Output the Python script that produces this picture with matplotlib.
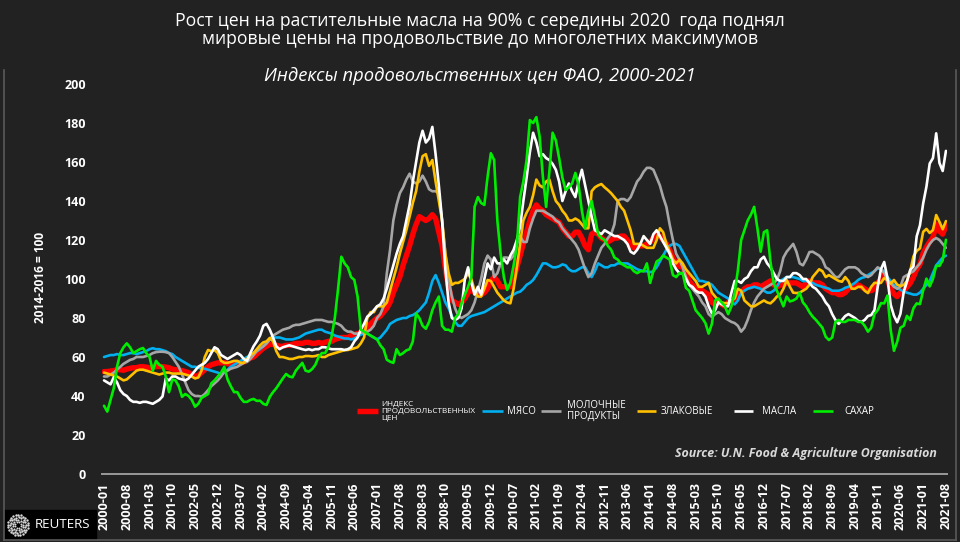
import numpy as np
import pandas as pd
import matplotlib
matplotlib.use("Agg")
import matplotlib.pyplot as plt
from matplotlib.lines import Line2D
from matplotlib.patches import Rectangle

# ---------------- data (monthly, 2000-01 .. 2021-08) ----------------
months = [p.strftime("%Y-%m") for p in pd.period_range("2000-01", "2021-08", freq="M")]

food = [
    52.5, 52.5, 52.8, 53, 53.5, 53.5, 53.2, 53.8, 54.2, 54.5, 54.5, 55,
    55, 54.8, 54.5, 54.8, 55, 55.2, 55, 54.8, 54.5, 53.8, 53.5, 53.2,
    53, 52.5, 52, 51, 50, 50.5, 52, 53.5, 55, 56, 56.5, 57,
    57, 57.2, 56.5, 56.5, 57, 57.2, 57, 57.5, 58.5, 59.5, 60, 61.5,
    63, 64.5, 65.5, 66.5, 66.5, 66, 65.5, 65.5, 66, 66, 66.5, 67,
    67, 67, 67.5, 67.5, 67, 67, 67.5, 67, 67.5, 68, 68, 69,
    69.5, 70, 70, 70, 71, 71.5, 72, 72.5, 73.5, 75, 77, 78.5,
    80, 81, 83, 85, 88, 93, 97, 101, 107, 112, 117, 123,
    128, 132, 131, 130, 131, 133, 131, 124, 117, 105, 96, 89,
    88, 87, 88, 90, 93, 95, 93, 94, 92, 93, 95, 99,
    101, 99, 96, 96, 96, 96, 100, 106, 112, 118, 124, 130,
    135, 138, 136, 135, 133, 132, 131, 130, 129, 126, 124, 122,
    122, 124, 124, 121, 117, 115, 123, 124, 123, 121, 120, 119,
    120, 121, 121, 122, 122, 120, 118, 116, 117, 117, 117, 118,
    119, 121, 123, 122, 120, 118, 115, 111, 108, 106.5, 106, 103,
    99, 97, 95, 95, 94, 93, 92, 88, 87, 88, 87, 86,
    88, 89, 90, 91, 93, 95, 96, 96, 97, 97, 96, 97,
    98, 99, 97, 96, 97, 97, 98, 98, 98, 98, 97, 96,
    98, 99, 98, 98, 98, 97, 95, 94, 93, 93, 92, 92,
    93, 95, 96, 96, 97, 96, 95, 94, 94, 95, 98, 100,
    102.5, 99.4, 95.1, 92.4, 91.0, 93.1, 94.0, 95.9, 97.8, 101.0, 105.0, 107.5,
    113.3, 116.4, 119.1, 121.3, 128.1, 124.6, 123.0, 127.4,
]

meat = [
    60, 60.5, 61, 61, 61.5, 61, 61, 61.5, 62, 62, 61.5, 62,
    62.5, 63, 64, 64.5, 64, 64, 63.5, 63, 62, 61.5, 60, 59,
    58, 57, 56, 55, 55, 54.5, 54, 54, 53.5, 53, 52.5, 52,
    51, 52, 53.5, 55, 56, 57, 58, 59, 60, 61, 62, 63,
    64, 65.5, 67, 69, 70, 70, 70, 69.5, 69, 69, 69, 69.5,
    70, 71, 72, 72.5, 73, 73.5, 74, 74, 73, 72.5, 72, 71,
    70.5, 70, 69.5, 69.5, 69, 69.5, 70.5, 71.5, 72, 72, 71, 70,
    69, 70, 72, 74, 77, 78, 79, 79.5, 80, 80, 81, 81.5,
    82.5, 84, 86, 88, 93, 99, 102, 98, 93, 88, 85, 81,
    78, 76, 76, 78, 80, 81, 81.5, 82, 82.5, 83, 84, 85,
    86, 87, 88, 89, 90, 91, 92, 93, 93.5, 95, 97, 98,
    99.5, 102, 105, 108, 108, 107, 106, 106, 106.5, 107.5, 107, 105,
    104, 104, 105, 106, 106, 103, 101, 104, 108, 107, 106, 106,
    107, 107, 108, 108, 108, 108, 107, 106, 105, 104.5, 104, 104,
    103.5, 104, 106, 109, 112, 115, 117, 118, 118, 117, 114, 111,
    108, 105, 102, 99, 99, 98.5, 98, 97, 95, 93, 92, 91,
    90, 88, 87, 89, 93, 94, 95, 95.5, 96, 95.5, 95, 94,
    93, 93, 94, 96, 99, 100, 101, 101, 101, 100.5, 100, 99,
    99, 98.5, 98, 97, 96.5, 96, 95.5, 95, 94, 94, 94, 94.5,
    95.5, 96, 97, 98, 99.5, 100.5, 101, 102, 103, 104, 105.5, 105,
    104, 101, 99, 97, 95.5, 94.5, 93.5, 93, 92.5, 92, 92, 93,
    95, 97, 99, 103, 107, 109, 111, 112,
]

dairy = [
    50, 50, 51, 52, 53.5, 55, 56.5, 57.5, 58.5, 59, 60, 60,
    60, 60.5, 61, 62, 62.5, 62.7, 62.7, 62.5, 62, 60, 57.5, 55,
    51, 47, 43, 41, 40, 40, 39.7, 41, 43, 45, 46.5, 48,
    50, 52.5, 53, 54, 54.5, 55, 56, 57, 57.5, 59, 61, 63,
    64.5, 65.5, 67, 69, 71, 72, 73, 74, 74.5, 75, 76, 76.5,
    76.5, 77, 77.5, 78, 78.5, 79, 79, 79, 78.5, 78, 78, 77.5,
    77, 76, 74, 73, 73, 72, 72, 72.5, 72.5, 73, 74, 76,
    80, 82, 86, 103, 115, 130, 138, 144, 147, 151, 154, 150,
    149, 150, 153, 150, 146, 145, 145, 144, 130, 113, 100, 91,
    85, 81, 80, 81, 82, 84, 88, 94, 100, 108, 112, 110,
    101, 103, 108, 111, 111, 110, 112, 118, 122, 119, 119, 126,
    131, 135, 135, 135, 134, 133, 132, 130, 129, 126, 124, 122,
    120, 118, 115, 110, 105, 101, 103, 108, 112, 116, 118, 121,
    123, 128, 140, 141, 141, 140, 142, 146, 150, 152, 155, 157,
    157, 156, 152, 148, 142, 137, 128, 120, 113, 110, 106, 101,
    97, 95, 93, 91, 88, 86, 82, 80.5, 82, 83, 82, 80,
    79, 78, 77.4, 76, 73, 75, 79, 84, 88, 91, 93, 95,
    96, 97, 98, 99.5, 104, 111, 114, 116, 118, 114, 108, 107,
    110, 113.8, 114, 113, 112, 110, 106, 105, 103, 101, 101, 103,
    105, 106, 106, 106, 105, 103, 102, 101, 102, 104, 106, 105,
    103, 99.5, 98, 96, 95, 96, 101, 102, 103, 104, 106, 108,
    111, 115, 118, 120, 121, 120, 118, 116,
]

cereals = [
    52, 51.5, 51, 50.5, 50, 49, 48, 48.5, 50, 51.5, 53, 53.5,
    53.5, 53, 52.5, 52, 51.5, 51, 51.5, 52, 52, 51.5, 51.5, 51.5,
    51.5, 51, 50.5, 50, 49, 49.5, 53, 60, 63.6, 63, 63.6, 62,
    58, 57, 57, 57.5, 58, 58, 57, 57, 59, 61, 62, 64,
    66, 67.5, 68, 69.8, 68, 63, 60, 60, 59.5, 59, 59, 59.5,
    60, 60, 60.5, 60.5, 60.3, 60.5, 61, 60, 60, 61, 61.5, 62,
    62.5, 63, 63.5, 63.6, 64, 64.5, 65, 67, 70, 80, 83, 83,
    86, 86, 86, 88, 94, 100, 106, 113, 119, 125, 132, 139,
    145, 155, 163, 164, 158, 161, 150, 140, 130, 113, 103, 97,
    98, 98, 99, 100, 103, 100, 94, 91, 91, 95, 99.5, 99,
    96, 93, 91, 89, 88, 87.5, 95, 106, 118, 130, 134, 137,
    143, 151, 148, 147, 150, 151, 145, 140, 138, 135, 133, 130,
    130, 131, 130, 128, 126, 126, 145, 147, 148, 148.7, 147, 145.6,
    144, 142, 140, 137, 135, 130, 125, 118, 118, 118, 117, 116,
    116, 116, 120, 126, 124, 118, 114, 110, 108, 110, 108, 105,
    103, 101, 99, 96, 96, 97, 98, 93, 91, 89, 88, 87.6,
    87.6, 89, 90, 95, 94, 89, 87.5, 86, 86, 87, 88, 89,
    88, 87.5, 89, 91, 92, 95, 99.5, 96, 93, 92.8, 93, 94,
    95, 97, 101, 103, 105, 104, 101, 102, 101, 100, 99, 98.6,
    101, 99, 95, 95, 96, 96, 94, 92.8, 96, 98, 98, 98,
    100.5, 99.4, 97.6, 99.5, 97.1, 96.4, 96.9, 99.0, 104.0, 111.6, 114.4, 115.7,
    124.2, 125.7, 123.6, 125.1, 132.8, 129.3, 125.5, 129.7,
]

oils = [
    48, 47, 46, 49.6, 47, 43, 41, 40, 38, 37, 37, 36.5,
    37, 37, 36.5, 36, 37, 38, 39.8, 49, 48, 50, 50, 49,
    48.5, 48, 49, 51, 53, 55, 56, 57, 59, 62, 65, 64,
    61, 60, 59, 60, 61, 62, 61, 59, 58, 62, 65.5, 68,
    71, 76, 77, 74, 70, 65.5, 64, 65, 65.5, 66, 65.5, 65,
    64.5, 64, 63.6, 64, 63.5, 64, 64, 65, 65, 64.5, 64, 64,
    64, 64, 63.6, 64, 65, 68, 70, 74, 77, 80.7, 82, 84,
    86, 87, 90, 95, 101, 107, 113, 118, 122, 130, 138, 150,
    160, 170, 176, 170, 172, 178, 164, 148, 130, 105, 88, 80,
    79, 80, 85, 100, 106, 98, 92, 96, 92, 100, 108, 105,
    111, 108, 108, 110, 108, 112, 115, 120, 127, 140, 152, 165,
    175, 170, 163, 164, 162, 161, 159, 156, 150, 140, 145, 149,
    145, 142, 150, 156, 148, 140, 132, 125, 124, 123, 125, 124,
    123, 122, 122, 121, 120, 118, 114, 113, 115, 118, 122, 120,
    118, 123, 125, 122, 119, 116, 113, 108, 105, 103, 103, 100,
    97, 96, 94, 93, 93, 91, 86, 82.4, 84, 88, 87, 86,
    86, 93, 99, 99, 98, 100, 101, 104, 106, 106, 110, 111.4,
    108, 106, 103, 100, 99, 99, 101, 101, 103, 103, 102, 100,
    100, 98, 96, 95, 93, 91, 88, 86, 82, 79, 77, 79,
    81, 82, 81, 80, 78.5, 78, 79, 81, 81.5, 84, 96, 105,
    108.7, 100.6, 86.8, 81.2, 77.8, 82.2, 93.3, 98.7, 104.6, 106.4, 121.9, 127.5,
    138.8, 147.4, 159.2, 162.0, 174.7, 159.5, 155.4, 165.7,
]

sugar = [
    35, 32, 38, 44, 55, 62, 65, 67, 65, 62, 63, 64,
    64.6, 62, 60, 53, 58, 56, 55, 50, 42, 48.5, 48, 45,
    39.6, 41, 40, 38, 34.5, 36, 39, 40, 41, 46.5, 48, 50,
    52, 55, 48.5, 45, 42, 42, 39, 37, 37, 38, 38.5, 37.5,
    37.6, 36, 35.4, 39.6, 42, 44, 46.5, 49, 51.3, 50, 49.6, 53,
    55, 57, 53, 52.5, 53.8, 56, 60, 62, 62, 65, 70.4, 80,
    95, 111.4, 108, 106, 101, 99.5, 91, 74, 73, 72, 71, 70,
    69, 66, 64, 58.6, 57.6, 57, 64, 61, 62, 63.4, 64, 68,
    82.4, 80, 76, 74.5, 78, 84, 88, 91, 76, 74, 74, 73,
    80, 82, 87.6, 92, 96, 101, 137, 142, 139, 138, 152.5, 164.5,
    161, 130, 113, 101, 94.4, 98, 107, 116.6, 142, 150, 161, 181.5,
    180, 183, 173, 152.5, 137, 155, 175, 171, 162, 152, 145.6, 147,
    149, 154.4, 148, 135, 126, 135, 140, 132, 123, 121, 120, 117,
    115, 111, 110, 108, 107, 106, 106, 104, 103, 104, 104, 108,
    98, 104, 109, 110, 112, 111, 110, 102, 101, 103, 103, 95.5,
    94, 89, 84, 82, 80, 77.4, 72, 77, 89, 90, 88, 86,
    82, 86, 93, 104.6, 120, 125, 130, 133, 137, 126, 114, 124,
    125, 109, 98, 94, 90, 86, 91, 88.5, 89, 90, 93, 88,
    86, 83, 80.7, 79, 77, 75, 70.4, 68.7, 70, 78, 79, 78,
    78, 79, 79, 79, 78, 78, 76, 73, 75, 82, 84, 87.6,
    87.5, 91.5, 73.9, 63.2, 67.8, 75.0, 76.0, 81.1, 79.0, 85.0, 87.5, 87.1,
    94.2, 100.2, 96.2, 100.0, 106.8, 106.7, 109.6, 120.1,
]

series_labels = ["ИНДЕКС\nПРОДОВОЛЬСТВЕННЫХ\nЦЕН", "МЯСО", "МОЛОЧНЫЕ\nПРОДУКТЫ",
                 "ЗЛАКОВЫЕ", "МАСЛА", "САХАР"]
yticks = [0, 20, 40, 60, 80, 100, 120, 140, 160, 180, 200]

# ---------------- styling ----------------
BG = "#222222"
FONT = ["Open Sans", "DejaVu Sans"]
plt.rcParams["font.family"] = FONT

W, H = 960, 542
fig = plt.figure(figsize=(W / 100, H / 100), dpi=100, facecolor=BG)

def fx(px):
    return px / W

def fy(py):
    return 1 - py / H

x_left, x_right = 102.4, 946.6
ax = fig.add_axes([fx(x_left), fy(474), fx(x_right - x_left), (474 - 84) / H])
ax.set_facecolor(BG)

x = np.arange(len(months))
styles = [
    (food, "#ff0000", 3.9),
    (meat, "#00b0f0", 1.9),
    (dairy, "#a6a6a6", 1.9),
    (cereals, "#ffc000", 1.9),
    (oils, "#ffffff", 1.9),
    (sugar, "#00ee00", 1.9),
]
for vals, col, lw in styles:
    ax.plot(x, vals, color=col, lw=lw, solid_joinstyle="round", solid_capstyle="round")

ax.set_xlim(-0.5, len(months) - 1 + 0.2)
ax.set_ylim(0, 200)
ax.set_yticks(yticks)
ax.set_yticklabels([str(v) for v in yticks], fontsize=9, fontweight="bold", color="white")
tick_pos = list(range(0, len(months), 7))
ax.set_xticks(tick_pos)
ax.set_xticklabels([months[i] for i in tick_pos], rotation=90, fontsize=9,
                   fontweight="bold", color="white")
ax.tick_params(axis="y", length=0, pad=12)
ax.tick_params(axis="x", length=0, pad=6)
for s in ["top", "right", "left"]:
    ax.spines[s].set_visible(False)
ax.spines["bottom"].set_color("#9a9a9a")
ax.spines["bottom"].set_linewidth(1.4)

# y label
fig.text(fx(40), fy(277), "2014-2016 = 100", rotation=90, ha="center", va="center",
         fontsize=8.6, fontweight="bold", color="white")

# titles
fig.text(0.5, fy(21), "Рост цен на растительные масла на 90% с середины 2020  года поднял",
         ha="center", va="center", fontsize=12.7, color="white")
fig.text(0.5, fy(39), "мировые цены на продовольствие до многолетних максимумов",
         ha="center", va="center", fontsize=12.7, color="white")
fig.text(0.5, fy(76), "Индексы продовольственных цен ФАО, 2000-2021",
         ha="center", va="center", fontsize=13.2, style="italic", color="white")

# frame lines
frame_col = "#5a5a5a"
fig.add_artist(Line2D([fx(3.5), fx(3.5)], [fy(70), fy(540)], color=frame_col, lw=1.2))
fig.add_artist(Line2D([fx(956), fx(956)], [fy(70), fy(540)], color=frame_col, lw=1.2))
fig.add_artist(Line2D([fx(3.5), fx(956)], [fy(540), fy(540)], color=frame_col, lw=1.2))

# legend (manual)
leg_y = 411
leg_items = [
    (357, 378, 381, 0, 5.9),
    (482, 503, 507, 1, 7.0),
    (541, 561, 567, 2, 7.0),
    (637, 656, 661, 3, 7.0),
    (734, 753, 762, 4, 7.0),
    (813, 833, 844, 5, 7.0),
]
for x0, x1, tx, i, fs in leg_items:
    col, lw = styles[i][1], styles[i][2]
    fig.add_artist(Line2D([fx(x0), fx(x1)], [fy(leg_y), fy(leg_y)], color=col,
                          lw=lw, solid_capstyle="butt"))
    fig.text(fx(tx), fy(leg_y), series_labels[i], ha="left", va="center",
             fontsize=fs, color="white", linespacing=1.05 if i == 0 else 0.95)

# source
fig.text(fx(937), fy(453), "Source: U.N. Food & Agriculture Organisation", ha="right",
         va="center", fontsize=8.9, fontweight="bold", style="italic", color="#d9d9d9")

# Reuters logo
fig.add_artist(Rectangle((fx(3.5), fy(539)), fx(92), (539 - 510) / H, color="black",
                         transform=fig.transFigure, zorder=-5))
lax = fig.add_axes([fx(7), fy(536), fx(22), 22 / H], zorder=5)
lax.set_xlim(-1.1, 1.1)
lax.set_ylim(-1.1, 1.1)
lax.set_aspect("equal")
lax.axis("off")
for r, n, s in [(1.0, 24, 3), (0.76, 18, 3), (0.52, 13, 2.5), (0.3, 8, 2)]:
    ang = np.linspace(0, 2 * np.pi, n, endpoint=False) + r
    lax.scatter(r * np.cos(ang), r * np.sin(ang), s=s, color="#d8d8d8", lw=0)
fig.text(fx(35), fy(525), "REUTERS", ha="left", va="center", fontsize=9.6,
         color="white", zorder=6)

fig.savefig("out.png", dpi=100, facecolor=BG)
